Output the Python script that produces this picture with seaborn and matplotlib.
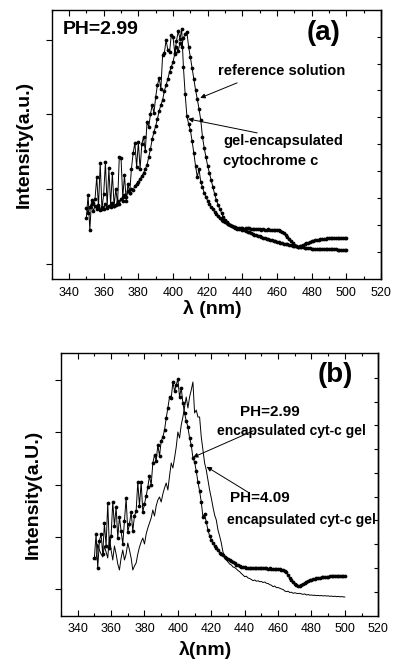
import numpy as np
import pandas as pd
import matplotlib
matplotlib.use("Agg")
import matplotlib.pyplot as plt
from matplotlib.ticker import MultipleLocator
import seaborn as sns

sns.set_theme(style="white")
plt.rcParams['font.family'] = ['Liberation Sans', 'DejaVu Sans']
plt.rcParams['text.color'] = 'black'

# wavelength grid (nm), 1 nm step
wavelength = list(range(350, 501))

# panel (a), PH=2.99 - intensities in arbitrary units
a_gel = [
    61, 84, 49, 79, 76, 80, 102, 72, 116, 70,
    85, 117, 72, 111, 74, 106, 73, 90, 75, 122,
    121, 82, 104, 78, 95, 86, 110, 126, 136, 112,
    137, 110, 135, 142, 128, 157, 152, 165, 174, 166,
    182, 194, 201, 190, 224, 226, 239, 229, 227, 244,
    242, 226, 238, 248, 240, 250, 212, 185, 163, 155,
    149, 138, 126, 113, 102, 110, 97, 92, 86, 82,
    78, 75, 72, 70, 67, 65, 63, 61, 59, 57.5,
    56.5, 55.5, 54.5, 53.5, 52.5, 52, 51.5, 51, 51, 50.5,
    50.5, 50, 50.5, 51, 50.5, 50, 50, 49.5, 50, 49.5,
    49.5, 49, 49.5, 49, 49, 49.5, 49, 49, 48.5, 49,
    49, 48.5, 48, 47, 45.5, 43.5, 41.5, 39.5, 37.5, 35.5,
    34, 33, 32.3, 32.5, 33.2, 34, 34.8, 35.6, 36.3, 37,
    37.6, 38.1, 38.6, 39, 39.4, 39.7, 40, 40.2, 40.4, 40.6,
    40.8, 41, 41.1, 41.2, 41.2, 41.3, 41.3, 41.3, 41.3, 41.3,
    41.3,
]
a_reference = [
    71, 66, 72, 75, 68, 73, 70, 74, 69, 72,
    70, 75, 71, 73, 72, 76, 73, 74, 78, 75,
    80, 78, 84, 82, 88, 86, 90, 89, 93, 95,
    97, 100, 103, 106, 110, 114, 122, 130, 140, 147,
    153, 160, 168, 174, 179, 188, 194, 200, 207, 212,
    217, 225, 232, 228, 236, 232, 241, 245, 247, 232,
    222, 211, 200, 189, 180, 170, 159, 142, 131, 122,
    113, 106, 99, 92, 85, 79, 74, 70, 66, 62,
    59, 57, 55, 54, 52.5, 51.5, 50.7, 50.2, 49.8, 49.5,
    49.2, 48.5, 47.8, 47.1, 46.5, 45.8, 45.1, 44.4, 43.7, 43.1,
    42.5, 41.9, 41.3, 40.7, 40.1, 39.5, 39, 38.5, 38, 37.5,
    37, 36.6, 36.2, 35.8, 35.4, 35, 34.6, 34.2, 33.8, 33.4,
    33, 32.7, 32.4, 32.1, 31.8, 31.5, 31.2, 31, 30.8, 30.6,
    30.4, 30.3, 30.2, 30.1, 30, 29.9, 29.8, 29.8, 29.7, 29.7,
    29.6, 29.6, 29.5, 29.5, 29.5, 29.4, 29.4, 29.4, 29.3, 29.3,
    29.3,
]

# panel (b), encapsulated cyt-c gel at two PH values
b_ph299 = [
    58, 82, 48, 75, 82, 62, 93, 70, 113, 68,
    80, 114, 90, 109, 78, 99, 85, 72, 95, 118,
    84, 92, 104, 85, 100, 105, 134, 110, 134, 104,
    112, 120, 129, 140, 131, 153, 161, 155, 171, 160,
    175, 179, 186, 198, 208, 219, 218, 234, 225, 231,
    237, 219, 228, 213, 203, 195, 189, 178, 171, 158,
    154, 145, 134, 125, 114, 99, 102, 94, 86, 80,
    76, 73, 70, 68, 66, 63, 62, 61, 59, 58,
    57, 56, 55, 54, 53, 51, 50.5, 50, 49, 48.7,
    48.5, 48.3, 48.2, 48, 48.1, 47.7, 47.9, 47.6, 47.8, 47.7,
    47.6, 47.8, 47.5, 47.7, 47.4, 47.5, 47.3, 47.4, 47.2, 47,
    46.9, 46.7, 46.4, 46, 45.3, 43.5, 40.5, 37.7, 35.5, 33.5,
    32, 31, 30.3, 30, 30.8, 32, 33.2, 34.3, 35.1, 35.8,
    36.4, 36.9, 37.3, 37.7, 38, 38.3, 38.6, 38.8, 39, 39.2,
    39.4, 39.5, 39.7, 39.8, 39.9, 40, 40.1, 40.2, 40.3, 40.3,
    40.3,
]
b_ph409 = [
    60, 56, 72, 66, 62, 59, 70, 64, 58, 79,
    66, 56, 70, 62, 52, 46, 58, 66, 56, 62,
    73, 66, 58, 46, 50, 53, 62, 69, 74, 78,
    72, 82, 88, 93, 98, 106, 100, 110, 116, 119,
    114, 122, 128, 133, 126, 140, 153, 148, 158, 169,
    184, 178, 191, 199, 209, 219, 208, 219, 226, 234,
    203, 206, 199, 199, 179, 166, 153, 146, 136, 126,
    118, 109, 101, 96, 86, 80, 73, 64, 60, 56,
    54, 52, 51, 49, 48.5, 47, 45.5, 44.3, 42.5, 41,
    39.3, 39.8, 38, 37.5, 36.5, 35.3, 36, 34.8, 35.2, 34.3,
    34.5, 33.5, 34, 32.7, 32.5, 31.3, 30.8, 29.3, 30, 28.3,
    28.5, 27.7, 27, 26.5, 25, 24.3, 24.8, 23.5, 23.8, 22.7,
    23.2, 22.7, 22.4, 22.7, 22, 21.7, 22.1, 21, 21.5, 20.8,
    21, 20.6, 20.8, 20.3, 20.6, 20.2, 20.5, 20, 20.3, 20,
    20.1, 19.7, 19.9, 19.5, 19.8, 19.3, 19.6, 19.2, 19.4, 19.1,
    19,
]

df_a = pd.DataFrame({"wl": wavelength, "gel": a_gel, "ref": a_reference})
df_b = pd.DataFrame({"wl": wavelength, "ph299": b_ph299, "ph409": b_ph409})


def style_axes(ax, ylim, left_ticks, right_ticks, pad):
    ax.set_xlim(330, 520)
    ax.set_ylim(*ylim)
    ax.xaxis.set_major_locator(MultipleLocator(20))
    ax.xaxis.set_minor_locator(MultipleLocator(10))
    ax.tick_params(axis='x', which='both', direction='in', bottom=True, top=True,
                   labelsize=9, pad=pad, colors='black', width=0.8)
    ax.tick_params(axis='x', which='major', length=4)
    ax.tick_params(axis='x', which='minor', length=2.5)
    ax.set_yticks(left_ticks)
    ax.tick_params(axis='y', which='major', direction='out', left=True, right=False,
                   labelleft=False, length=4, width=0.8, color='black')
    sec = ax.secondary_yaxis('right')
    sec.set_yticks(right_ticks)
    sec.tick_params(direction='in', length=3, width=0.8, labelright=False, color='black')
    sec.spines['right'].set_linewidth(1.0)
    sec.spines['right'].set_color('black')
    for s in ax.spines.values():
        s.set_linewidth(1.0)
        s.set_color('black')
    ax.grid(False)


fig = plt.figure(figsize=(3.94, 6.65), dpi=100)
ax_a = fig.add_axes([0.1312, 0.5805, 0.8358, 0.4045])
ax_b = fig.add_axes([0.1548, 0.0737, 0.8053, 0.3950])

marks = dict(marker='o', markersize=2.7, markeredgewidth=0)

# ---- panel (a)
sns.lineplot(data=df_a, x="wl", y="ref", ax=ax_a, color='black', lw=0.7, **marks)
sns.lineplot(data=df_a, x="wl", y="gel", ax=ax_a, color='black', lw=0.7, **marks)
style_axes(ax_a, (0, 269), [15.3, 90, 164.7, 239],
           [27.1, 54, 80.9, 107.8, 134.7, 161.6, 188.5, 215.4, 242.3], pad=6)
ax_a.set_xlabel("λ (nm)", fontsize=14, fontweight='bold', color='black')
ax_a.set_ylabel("Intensity(a.u.)", fontsize=14, fontweight='bold', color='black')
ax_a.xaxis.set_label_coords(0.487, -0.080)
ax_a.yaxis.set_label_coords(-0.057, 0.5)

ax_a.text(0.033, 0.926, "PH=2.99", transform=ax_a.transAxes, fontsize=14,
          fontweight='bold', va='center', ha='left')
ax_a.text(0.827, 0.916, "(a)", transform=ax_a.transAxes, fontsize=20,
          fontweight='bold', va='center', ha='center')
ax_a.text(0.505, 0.773, "reference solution", transform=ax_a.transAxes,
          fontsize=10.5, fontweight='bold', va='center', ha='left')
ax_a.text(0.520, 0.513, "gel-encapsulated", transform=ax_a.transAxes,
          fontsize=10.5, fontweight='bold', va='center', ha='left')
ax_a.text(0.520, 0.439, "cytochrome c", transform=ax_a.transAxes,
          fontsize=10.5, fontweight='bold', va='center', ha='left')
arrow = dict(arrowstyle='-|>', color='black', lw=0.7, mutation_scale=7,
             shrinkA=0, shrinkB=0)
ax_a.annotate("", xy=(0.451, 0.673), xytext=(0.563, 0.729),
              xycoords='axes fraction', arrowprops=arrow)
ax_a.annotate("", xy=(0.414, 0.595), xytext=(0.624, 0.543),
              xycoords='axes fraction', arrowprops=arrow)

# ---- panel (b)
sns.lineplot(data=df_b, x="wl", y="ph409", ax=ax_b, color='black', lw=0.7)
sns.lineplot(data=df_b, x="wl", y="ph299", ax=ax_b, color='black', lw=0.7, **marks)
style_axes(ax_b, (0, 262.7), [27, 79, 131, 184, 236],
           [24.3, 48.3, 72, 96, 119.3, 143.3, 167, 191, 214.3, 238.3], pad=5)
ax_b.set_xlabel("λ(nm)", fontsize=14, fontweight='bold', color='black')
ax_b.set_ylabel("Intensity(a.U.)", fontsize=14, fontweight='bold', color='black')
ax_b.xaxis.set_label_coords(0.454, -0.095)
ax_b.yaxis.set_label_coords(-0.060, 0.464)

ax_b.text(0.864, 0.917, "(b)", transform=ax_b.transAxes, fontsize=20,
          fontweight='bold', va='center', ha='center')
ax_b.text(0.564, 0.777, "PH=2.99", transform=ax_b.transAxes, fontsize=11,
          fontweight='bold', va='center', ha='left')
ax_b.text(0.492, 0.704, "encapsulated cyt-c gel", transform=ax_b.transAxes,
          fontsize=10, fontweight='bold', va='center', ha='left')
ax_b.text(0.533, 0.449, "PH=4.09", transform=ax_b.transAxes, fontsize=11,
          fontweight='bold', va='center', ha='left')
ax_b.text(0.523, 0.365, "encapsulated cyt-c gel", transform=ax_b.transAxes,
          fontsize=10, fontweight='bold', va='center', ha='left')
ax_b.annotate("", xy=(0.416, 0.604), xytext=(0.606, 0.705),
              xycoords='axes fraction', arrowprops=arrow)
ax_b.annotate("", xy=(0.459, 0.568), xytext=(0.590, 0.471),
              xycoords='axes fraction', arrowprops=arrow)

fig.savefig("out.png", dpi=100)
